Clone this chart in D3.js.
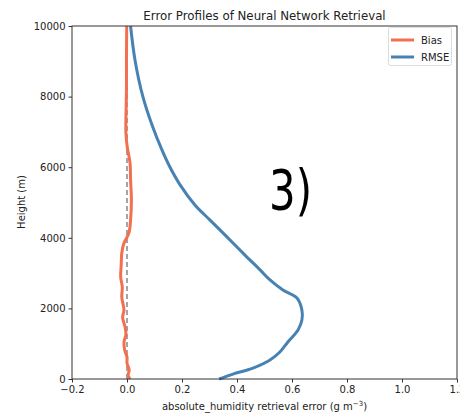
<!DOCTYPE html>
<html><head><meta charset="utf-8">
<script src="https://cdn.jsdelivr.net/npm/d3@7"></script>
<style>body{margin:0;background:#fff}svg{display:block}text{font-family:"DejaVu Sans",sans-serif}</style>
</head><body>
<script>
const rmseHeights = [0,140,310,540,765,1050,1390,1670,1955,2295,2520,2805,3090,3510,4020,4500,4930,5500,6005,6490,7195,7990,9040,10000];
const rmseValues  = [0.335,0.385,0.458,0.520,0.556,0.585,0.622,0.636,0.636,0.618,0.567,0.520,0.484,0.429,0.364,0.302,0.247,0.193,0.156,0.127,0.091,0.058,0.029,0.013];
const biasHeights = [0,110,255,450,620,800,1050,1250,1470,1750,1950,2320,2600,2890,3250,3570,3850,4140,4500,5070,5640,6120,6570,6970,7340,8190,9040,10000];
const biasValues  = [0.011,0.004,0.008,0.0,0.0,-0.008,-0.011,-0.004,-0.007,-0.016,-0.011,-0.019,-0.017,-0.023,-0.021,-0.019,-0.011,0.007,0.013,0.016,0.013,0.011,0.001,-0.004,-0.004,-0.002,-0.002,-0.001];
const xTicks = [-0.2,0.0,0.2,0.4,0.6,0.8,1.0,1.2];
const yTicks = [0,2000,4000,6000,8000,10000];
const seriesNames = ["Bias","RMSE"];
const seriesColors = ["#f26f4f","#4682b4"];

const W=460,H=414, m={l:72,r:3,t:26,b:35};
const svg=d3.select("body").append("svg").attr("width",W).attr("height",H);
const x=d3.scaleLinear().domain([-0.2,1.2]).range([m.l,457]);
const y=d3.scaleLinear().domain([0,10000]).range([379,m.t]);

svg.append("line").attr("x1",x(0)).attr("x2",x(0)).attr("y1",y(0)).attr("y2",y(10000))
  .attr("stroke","#888").attr("stroke-width",1.5).attr("stroke-dasharray","5,3");

const line=d3.line().x(d=>x(d[0])).y(d=>y(d[1])).curve(d3.curveCatmullRom);
svg.append("path").datum(biasValues.map((v,i)=>[v,biasHeights[i]]))
  .attr("d",line).attr("fill","none").attr("stroke",seriesColors[0]).attr("stroke-width",3);
svg.append("path").datum(rmseValues.map((v,i)=>[v,rmseHeights[i]]))
  .attr("d",line).attr("fill","none").attr("stroke",seriesColors[1]).attr("stroke-width",3);

svg.append("rect").attr("x",x(-0.2)).attr("y",y(10000)).attr("width",x(1.2)-x(-0.2)).attr("height",y(0)-y(10000))
  .attr("fill","none").attr("stroke","#333").attr("stroke-width",1);

const fmtX=d=>(d<0?"\u2212":"")+Math.abs(d).toFixed(1);
const xa=svg.append("g").attr("transform",`translate(0,${y(0)})`)
  .call(d3.axisBottom(x).tickValues(xTicks).tickFormat(fmtX).tickSizeOuter(0).tickSize(3.5).tickPadding(3));
const ya=svg.append("g").attr("transform",`translate(${x(-0.2)},0)`)
  .call(d3.axisLeft(y).tickValues(yTicks).tickFormat(d=>d).tickSizeOuter(0).tickSize(3.5).tickPadding(3));
[xa,ya].forEach(a=>{a.select(".domain").remove();a.selectAll("line").attr("stroke","#333");
  a.selectAll("text").attr("font-family","DejaVu Sans").attr("font-size",10).attr("fill","#222");});

svg.append("text").attr("x",(x(-0.2)+x(1.2))/2).attr("y",20).attr("text-anchor","middle")
  .attr("font-size",11.8).attr("fill","#222").text("Error Profiles of Neural Network Retrieval");
const xl=svg.append("text").attr("x",(x(-0.2)+x(1.2))/2).attr("y",410).attr("text-anchor","middle")
  .attr("font-size",10).attr("fill","#222");
xl.append("tspan").text("absolute_humidity retrieval error (g m");
xl.append("tspan").attr("dy",-4).attr("font-size",7).text("\u22123");
xl.append("tspan").attr("dy",4).text(")");
svg.append("text").attr("transform","translate(25,202) rotate(-90)").attr("text-anchor","middle")
  .attr("font-size",10).attr("fill","#222").text("Height (m)");

const lg=svg.append("g");
lg.append("rect").attr("x",388.5).attr("y",27.5).attr("width",63).attr("height",38).attr("rx",2)
  .attr("fill","#fff").attr("stroke","#ddd");
seriesNames.forEach((n,i)=>{
  lg.append("line").attr("x1",391).attr("x2",414).attr("y1",40+i*17).attr("y2",40+i*17)
    .attr("stroke",seriesColors[i]).attr("stroke-width",3);
  lg.append("text").attr("x",421).attr("y",44+i*17).attr("font-size",10).attr("fill","#222").text(n);
});

svg.append("text").attr("x",269).attr("y",209).attr("font-family","Liberation Sans").attr("font-size",55)
  .attr("textLength",43).attr("lengthAdjust","spacingAndGlyphs")
  .attr("fill","#000").text("3)");
</script>
</body></html>
